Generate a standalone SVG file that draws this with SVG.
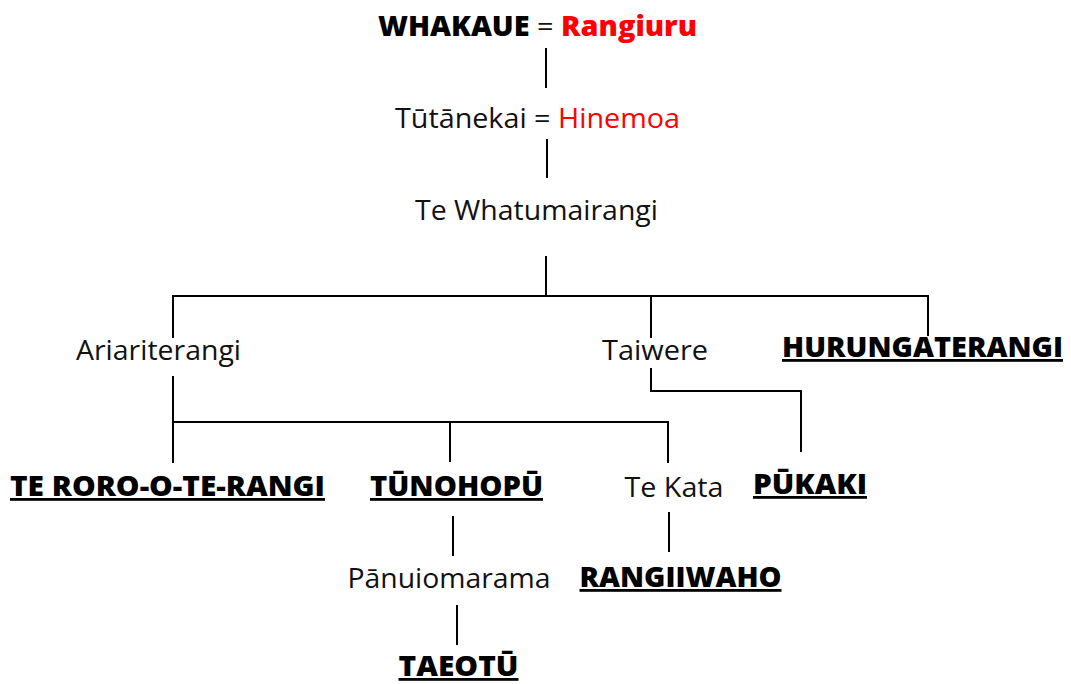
<svg xmlns="http://www.w3.org/2000/svg" width="1071" height="684" viewBox="0 0 1071 684">
<style>
  .n { font-family: "Open Sans", "Lato", "Liberation Sans", sans-serif; font-size: 28px; fill: #111; text-anchor: middle; }
  .b { font-family: "Open Sans", "Lato", "Liberation Sans", sans-serif; font-size: 28px; font-weight: 800; fill: #000; text-anchor: middle; }
  .u { text-decoration: underline; }
  .red { fill: #ff0000; }
  .c line, .c polyline { stroke: #000; stroke-width: 2; fill: none; }
</style>
<rect width="1071" height="684" fill="#fff"/>
<g class="c" id="connectors">
  <line x1="546" y1="48" x2="546" y2="88"/>
  <line x1="547" y1="139" x2="547" y2="178"/>
  <line x1="546" y1="256" x2="546" y2="296"/>
  <polyline points="173,338 173,296 928,296 928,336"/>
  <line x1="651" y1="296" x2="651" y2="338"/>
  <polyline points="651,368 651,391 801,391 801,452"/>
  <line x1="173" y1="376" x2="173" y2="463"/>
  <polyline points="173,422 668,422 668,463"/>
  <line x1="450" y1="422" x2="450" y2="462"/>
  <line x1="453" y1="516" x2="453" y2="556"/>
  <line x1="669" y1="512" x2="669" y2="552"/>
  <line x1="457" y1="605" x2="457" y2="645"/>
</g>
<g id="whakaue"><text class="b" x="537.5" y="36" textLength="319" lengthAdjust="spacingAndGlyphs">WHAKAUE <tspan font-weight="400" fill="#111">=</tspan> <tspan class="red">Rangiuru</tspan></text></g>
<g id="tutanekai"><text class="n" x="537.5" y="128" textLength="285" lengthAdjust="spacingAndGlyphs">Tūtānekai = <tspan class="red">Hinemoa</tspan></text></g>
<g id="whatumairangi"><text class="n" x="536.5" y="220" textLength="243" lengthAdjust="spacingAndGlyphs">Te Whatumairangi</text></g>
<g id="ariariterangi"><text class="n" x="158.5" y="360" textLength="165" lengthAdjust="spacingAndGlyphs">Ariariterangi</text></g>
<g id="taiwere"><text class="n" x="655" y="360" textLength="106" lengthAdjust="spacingAndGlyphs">Taiwere</text></g>
<g id="hurungaterangi"><text class="b u" x="922.5" y="357" textLength="281" lengthAdjust="spacingAndGlyphs">HURUNGATERANGI</text></g>
<g id="teroro"><text class="b u" x="167.5" y="496" textLength="315" lengthAdjust="spacingAndGlyphs">TE RORO-O-TE-RANGI</text></g>
<g id="tunohopu"><text class="b u" x="456.5" y="496" textLength="173" lengthAdjust="spacingAndGlyphs">TŪNOHOPŪ</text></g>
<g id="tekata"><text class="n" x="674" y="497" textLength="99" lengthAdjust="spacingAndGlyphs">Te Kata</text></g>
<g id="pukaki"><text class="b u" x="810" y="494" textLength="114" lengthAdjust="spacingAndGlyphs">PŪKAKI</text></g>
<g id="panuiomarama"><text class="n" x="449" y="588" textLength="203" lengthAdjust="spacingAndGlyphs">Pānuiomarama</text></g>
<g id="rangiiwaho"><text class="b u" x="680.5" y="587" textLength="202" lengthAdjust="spacingAndGlyphs">RANGIIWAHO</text></g>
<g id="taeotu"><text class="b u" x="458.5" y="676" textLength="120" lengthAdjust="spacingAndGlyphs">TAEOTŪ</text></g>
</svg>
